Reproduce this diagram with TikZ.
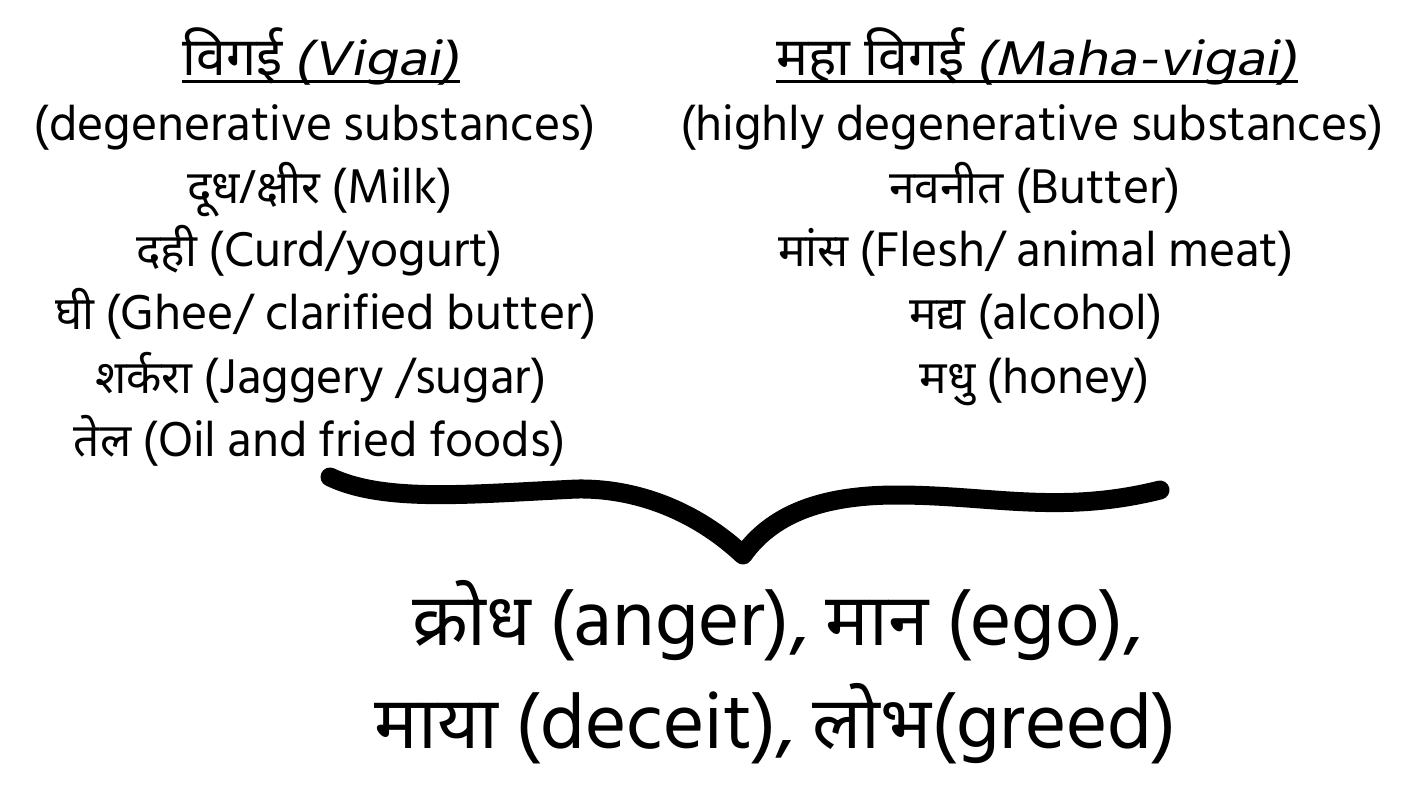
\documentclass[tikz,border=0pt]{standalone}
\usepackage{fontspec}
\setmainfont{Hind Siliguri}
\newfontfamily\itfont{Hind Siliguri}[FakeSlant=0.2, FakeStretch=1.2]
\newfontfamily\devfont[Script=Devanagari, Scale=0.92]{Noto Sans}
\newcommand{\dv}[1]{{\devfont #1}}
\newcommand{\ital}[1]{{\itfont #1}}
\begin{document}
\begin{tikzpicture}[x=1pt,y=-1pt,
  txt/.style={inner sep=0pt, anchor=base, font=\fontsize{50}{54}\selectfont},
  ttl/.style={inner sep=0pt, anchor=base, font=\fontsize{50}{54}\selectfont},
  big/.style={inner sep=0pt, anchor=base, font=\fontsize{79}{83}\selectfont},
  uline/.style={line width=3pt},
  brace/.style={line width=19pt, line cap=round, line join=round}]
\fill[white] (0,0) rectangle (1424,788);
\useasboundingbox (0,0) rectangle (1424,788);
% left column
\node[ttl] (L0) at (321,75) {{\fontsize{58}{60}\selectfont\dv{विगई}} \ital{(Vigai)}};
\node[txt] (L1) at (315,140) {(degenerative substances)};
\node[txt] (L2) at (320,203) {\dv{दूध/क्षीर} (Milk)};
\node[txt] (L3) at (320,266) {\dv{दही} (Curd/yogurt)};
\node[txt] (L4) at (326,329) {\dv{घी} (Ghee/ clarified butter)};
\node[txt] (L5) at (321,393) {\dv{शर्करा} (Jaggery /sugar)};
\node[txt] (L6) at (320,456) {\dv{तेल} (Oil and fried foods)};
\draw[uline] ([yshift=-6pt]L0.base west) -- ([yshift=-6pt]L0.base east);
% right column
\node[ttl] (R0) at (1037,75) {{\fontsize{58}{60}\selectfont\dv{महा विगई}} \ital{(Maha-vigai)}};
\node[txt] (R1) at (1032,140) {(highly degenerative substances)};
\node[txt] (R2) at (1035,203) {\dv{नवनीत} (Butter)};
\node[txt] (R3) at (1036,266) {\dv{मांस} (Flesh/ animal meat)};
\node[txt] (R4) at (1036,329) {\dv{मद्य} (alcohol)};
\node[txt] (R5) at (1035,393) {\dv{मधु} (honey)};
\draw[uline] ([yshift=-6pt]R0.base west) -- ([yshift=-6pt]R0.base east);
% brace
\draw[brace] (330,477) .. controls (385,503) and (470,494) .. (577,489)
  .. controls (635,488) and (695,510) .. (743,555)
  .. controls (775,510) and (830,495) .. (897,495)
  .. controls (990,495) and (1060,515) .. (1160,490);
% bottom
\node[big] (B1) at (777,645) {\dv{क्रोध} (anger), \dv{मान} (ego),};
\node[big] (B2) at (776,748) {\dv{माया} (deceit), \dv{लोभ}(greed)};
\end{tikzpicture}
\end{document}
